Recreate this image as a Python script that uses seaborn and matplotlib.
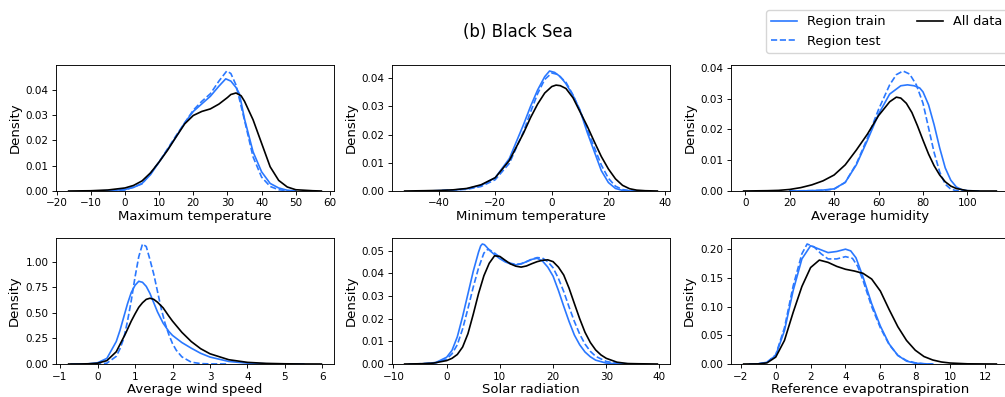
import matplotlib
matplotlib.use("Agg")
import matplotlib.pyplot as plt
from matplotlib.lines import Line2D
from matplotlib.ticker import MultipleLocator
import seaborn as sns

REGION_COLOR = "#2a78ff"
ALL_COLOR = "black"

# ---- Maximum temperature ----
tmax_train_x = [-12, -5, 0, 2.5, 5, 7.5, 10, 12.5, 15, 17.5, 20, 22.5, 25, 27.5, 29.5, 31, 32.5, 33.5,
                35, 37.5, 40, 42.5, 45, 47.5, 50]
tmax_train = [0, 0.0001, 0.0006, 0.0014, 0.003, 0.0065, 0.0115, 0.0165, 0.0215, 0.027, 0.0315, 0.0345,
              0.0375, 0.0415, 0.0444, 0.0435, 0.041, 0.0385, 0.0285, 0.0155, 0.0076, 0.003, 0.0012, 0.0003, 0]
tmax_test_x = [-12, -5, 0, 5, 10, 15, 20, 22.5, 25, 27.5, 29.8, 31, 32.5, 35, 37.5, 40, 42.5, 45, 47.5, 50]
tmax_test = [0, 0.0001, 0.0004, 0.0028, 0.0115, 0.022, 0.032, 0.0355, 0.0385, 0.0435, 0.0475, 0.0465,
             0.042, 0.028, 0.0135, 0.0055, 0.0018, 0.0005, 0.0001, 0]
tmax_all_x = [-16.5, -10, -5, 0, 2.5, 5, 7.5, 10, 12.5, 15, 17.5, 20, 22.5, 25, 27.5, 30, 31, 32.5, 34,
              35, 37.5, 40, 42.5, 45, 47.5, 50, 55, 57.5]
tmax_all = [0, 0.0001, 0.0004, 0.0012, 0.0022, 0.004, 0.0072, 0.0115, 0.0162, 0.0215, 0.0266, 0.0299,
            0.0315, 0.0325, 0.0344, 0.037, 0.0382, 0.0388, 0.0377, 0.0355, 0.0282, 0.0189, 0.0096, 0.0042,
            0.0016, 0.0005, 0.0001, 0]

# ---- Minimum temperature ----
tmin_train_x = [-45, -40, -35, -30, -25, -20, -15, -10, -7.5, -5, -2.5, -0.8, 1, 3, 5, 7.5, 10, 12.5,
                15, 17.5, 20, 22.5, 25, 28]
tmin_train = [0, 0.0001, 0.0003, 0.0008, 0.002, 0.0047, 0.0115, 0.0235, 0.030, 0.0358, 0.0405, 0.0425,
              0.042, 0.0405, 0.038, 0.0338, 0.0285, 0.0208, 0.014, 0.0072, 0.003, 0.0009, 0.0002, 0]
tmin_test_x = [-45, -40, -30, -25, -20, -15, -10, -7.5, -5, -2.5, 0, 2, 5, 7.5, 10, 12.5, 15, 17.5, 20,
               22.5, 25, 28, 31]
tmin_test = [0, 0.0001, 0.0006, 0.0016, 0.004, 0.0098, 0.021, 0.028, 0.0345, 0.0395, 0.0418, 0.0413,
             0.0385, 0.034, 0.0285, 0.0218, 0.0155, 0.0092, 0.0045, 0.0017, 0.0005, 0.0001, 0]
tmin_all_x = [-52, -45, -40, -35, -30, -25, -20, -15, -10, -7.5, -5, -2.5, 0, 1.5, 3, 5, 7.5, 10, 12.5,
              15, 17.5, 20, 22.5, 25, 27.5, 30, 33, 37.3]
tmin_all = [0, 0.0001, 0.0002, 0.0004, 0.0009, 0.0022, 0.0047, 0.0108, 0.0205, 0.026, 0.0308, 0.0347,
            0.037, 0.0375, 0.0373, 0.0363, 0.033, 0.028, 0.023, 0.0175, 0.0122, 0.0078, 0.0043, 0.002,
            0.0008, 0.0003, 0.0001, 0]

# ---- Average humidity ----
hum_train_x = [20, 30, 35, 40, 45, 50, 55, 60, 65, 70, 73, 76, 78.5, 80, 82.5, 85, 87.5, 90, 92.5, 95,
               97.5, 100, 105]
hum_train = [0, 0.0001, 0.0003, 0.0007, 0.0028, 0.0085, 0.0165, 0.025, 0.0315, 0.0342, 0.0345, 0.0342,
             0.0335, 0.0322, 0.028, 0.0215, 0.014, 0.0075, 0.0035, 0.0013, 0.0004, 0.0001, 0]
hum_test_x = [20, 35, 40, 45, 50, 55, 60, 65, 68, 71, 74, 77, 80, 82.5, 85, 87.5, 90, 92.5, 95, 100]
hum_test = [0, 0.0002, 0.0006, 0.0028, 0.0088, 0.0172, 0.0265, 0.0345, 0.0378, 0.039, 0.038, 0.0345,
            0.0285, 0.0205, 0.0125, 0.0062, 0.0022, 0.0006, 0.0001, 0]
hum_all_x = [-0.7, 10, 15, 20, 25, 30, 35, 40, 45, 50, 55, 60, 65, 68, 70, 72.5, 75, 77.5, 80, 82.5, 85,
             87.5, 90, 92.5, 95, 100, 105, 113]
hum_all = [0, 0.0001, 0.0002, 0.0005, 0.0011, 0.002, 0.0033, 0.0052, 0.0085, 0.0133, 0.0185, 0.0245,
           0.029, 0.0305, 0.0302, 0.0285, 0.0255, 0.0212, 0.0165, 0.012, 0.0082, 0.0052, 0.003, 0.0016,
           0.0008, 0.0001, 0, 0]

# ---- Average wind speed ----
wind_train_x = [-0.7, -0.25, 0, 0.25, 0.5, 0.6, 0.7, 0.8, 0.9, 1.0, 1.1, 1.2, 1.3, 1.4, 1.5, 1.6, 1.75,
                1.9, 2.0, 2.25, 2.5, 2.75, 3.0, 3.5, 4.0, 4.5, 5.0, 5.5]
wind_train = [0, 0.002, 0.012, 0.055, 0.22, 0.33, 0.46, 0.59, 0.70, 0.77, 0.81, 0.80, 0.76, 0.69, 0.60,
              0.51, 0.40, 0.32, 0.28, 0.21, 0.155, 0.105, 0.068, 0.025, 0.008, 0.002, 0.0005, 0]
wind_test_x = [-0.3, 0, 0.25, 0.5, 0.6, 0.7, 0.8, 0.9, 1.0, 1.1, 1.2, 1.3, 1.4, 1.5, 1.6, 1.7, 1.8, 1.9,
               2.0, 2.1, 2.25, 2.5, 2.75, 3.0, 3.5]
wind_test = [0, 0.001, 0.008, 0.075, 0.15, 0.25, 0.42, 0.62, 0.85, 1.05, 1.175, 1.15, 1.02, 0.88, 0.71,
             0.54, 0.40, 0.29, 0.20, 0.135, 0.07, 0.018, 0.004, 0.001, 0]
wind_all_x = [-0.77, -0.5, -0.25, 0, 0.25, 0.5, 0.75, 0.9, 1.0, 1.1, 1.2, 1.3, 1.4, 1.5, 1.6, 1.75, 1.9,
              2.0, 2.25, 2.5, 2.75, 3.0, 3.5, 4.0, 4.5, 5.0, 5.5, 5.97]
wind_all = [0, 0.0003, 0.002, 0.008, 0.033, 0.12, 0.30, 0.42, 0.49, 0.555, 0.60, 0.633, 0.644, 0.633,
            0.605, 0.55, 0.47, 0.42, 0.31, 0.22, 0.15, 0.10, 0.042, 0.016, 0.006, 0.002, 0.0005, 0]

# ---- Solar radiation ----
sol_train_x = [-7, -4, -2, 0, 1, 2, 3, 4, 5, 6, 6.4, 6.7, 7.1, 7.5, 8, 9, 10, 11, 12, 13, 14, 15, 16, 17,
               18, 19, 20, 21, 22, 23, 24, 25, 26, 27, 28, 30, 32, 34]
sol_train = [0, 0.0001, 0.0007, 0.003, 0.006, 0.012, 0.021, 0.031, 0.041, 0.0495, 0.0522, 0.053, 0.0527,
             0.0517, 0.0503, 0.0483, 0.0465, 0.0451, 0.0442, 0.0438, 0.0442, 0.0452, 0.0462, 0.0467,
             0.0455, 0.0428, 0.0388, 0.0325, 0.0255, 0.0188, 0.0128, 0.0085, 0.0053, 0.0032, 0.0017,
             0.0004, 0.0001, 0]
sol_test_x = [-6, -2, 0, 1, 2, 3, 4, 5, 6, 7, 7.8, 9, 10, 11, 12, 13, 14, 15, 16, 17, 18, 19, 20, 21, 22,
              23, 24, 25, 26, 27, 28, 30, 32, 34, 36]
sol_test = [0, 0.0005, 0.0022, 0.0045, 0.0085, 0.0155, 0.0245, 0.034, 0.0425, 0.049, 0.0508, 0.049,
            0.0472, 0.0455, 0.0445, 0.044, 0.0443, 0.0452, 0.0463, 0.047, 0.0468, 0.0452, 0.0425, 0.0378,
            0.032, 0.0252, 0.0188, 0.0132, 0.0088, 0.0056, 0.0034, 0.0011, 0.0003, 0.0001, 0]
sol_all_x = [-7.9, -5, -2.5, 0, 1, 2, 3, 4, 5, 6, 7, 8, 9, 10, 11, 12, 13, 14, 15, 16, 17, 18, 19, 20, 21,
             22, 23, 24, 25, 26, 27, 28, 29, 30, 32, 34, 36, 39.6]
sol_all = [0, 0.0001, 0.0004, 0.0015, 0.0025, 0.0042, 0.0075, 0.0134, 0.022, 0.0312, 0.039, 0.0445,
           0.0478, 0.0475, 0.0458, 0.0442, 0.0432, 0.0428, 0.0433, 0.0443, 0.0452, 0.0458, 0.046, 0.0452,
           0.0428, 0.0393, 0.0335, 0.0267, 0.020, 0.014, 0.0095, 0.0062, 0.004, 0.0025, 0.0008, 0.0002,
           0.0001, 0]

# ---- Reference evapotranspiration ----
et0_train_x = [-1.5, -1, -0.5, 0, 0.5, 1, 1.5, 2, 2.5, 3, 3.5, 4, 4.3, 4.6, 5, 5.5, 6, 6.5, 7, 7.5, 8,
               8.5, 9]
et0_train = [0, 0.0003, 0.003, 0.015, 0.058, 0.128, 0.183, 0.206, 0.200, 0.194, 0.196, 0.200, 0.197,
             0.185, 0.152, 0.105, 0.066, 0.035, 0.015, 0.005, 0.0015, 0.0003, 0]
et0_test_x = [-1.5, -1, -0.5, 0, 0.5, 1, 1.5, 1.8, 2.2, 2.6, 3, 3.5, 4, 4.4, 4.7, 5, 5.5, 6, 6.5, 7, 7.5,
              8, 8.5, 9]
et0_test = [0, 0.0003, 0.003, 0.016, 0.063, 0.136, 0.192, 0.209, 0.204, 0.192, 0.183, 0.183, 0.187,
            0.184, 0.17, 0.146, 0.10, 0.063, 0.034, 0.015, 0.006, 0.002, 0.0005, 0]
et0_all_x = [-1.84, -1, -0.5, 0, 0.5, 1, 1.5, 2, 2.5, 3, 3.5, 4, 4.5, 5, 5.5, 6, 6.5, 7, 7.5, 8, 8.5, 9,
             9.5, 10, 11, 12, 12.65]
et0_all = [0, 0.0002, 0.002, 0.012, 0.041, 0.09, 0.135, 0.168, 0.181, 0.177, 0.17, 0.165, 0.162, 0.158,
           0.148, 0.127, 0.095, 0.065, 0.041, 0.024, 0.013, 0.007, 0.0035, 0.0017, 0.0003, 0.0001, 0]

panels = [
    ("Maximum temperature", (tmax_train_x, tmax_train), (tmax_test_x, tmax_test), (tmax_all_x, tmax_all), 10),
    ("Minimum temperature", (tmin_train_x, tmin_train), (tmin_test_x, tmin_test), (tmin_all_x, tmin_all), 20),
    ("Average humidity", (hum_train_x, hum_train), (hum_test_x, hum_test), (hum_all_x, hum_all), 20),
    ("Average wind speed", (wind_train_x, wind_train), (wind_test_x, wind_test), (wind_all_x, wind_all), 1),
    ("Solar radiation", (sol_train_x, sol_train), (sol_test_x, sol_test), (sol_all_x, sol_all), 10),
    ("Reference evapotranspiration", (et0_train_x, et0_train), (et0_test_x, et0_test),
     (et0_all_x, et0_all), 2),
]

plt.rcParams.update({
    "font.family": ["DejaVu Sans"],
    "axes.linewidth": 0.65,
    "xtick.major.size": 2.8,
    "ytick.major.size": 2.8,
    "xtick.major.width": 0.65,
    "ytick.major.width": 0.65,
    "xtick.major.pad": 2.6,
    "ytick.major.pad": 2.6,
    "xtick.labelsize": 7.5,
    "ytick.labelsize": 7.5,
    "axes.labelsize": 9.5,
    "axes.labelpad": 1.0,
})

W, H = 1005, 397
fig = plt.figure(figsize=(W / 100, H / 100), dpi=100)

lefts = [56, 392, 731]
tops = [65, 238]
ax_w, ax_h = 278, 126

for i, (label, train, test, alldata, xstep) in enumerate(panels):
    r, c = divmod(i, 3)
    rect = [lefts[c] / W, (H - tops[r] - ax_h) / H, ax_w / W, ax_h / H]
    ax = fig.add_axes(rect)
    sns.lineplot(x=train[0], y=train[1], ax=ax, color=REGION_COLOR, lw=1.2, linestyle="-")
    sns.lineplot(x=test[0], y=test[1], ax=ax, color=REGION_COLOR, lw=1.2, linestyle="--")
    sns.lineplot(x=alldata[0], y=alldata[1], ax=ax, color=ALL_COLOR, lw=1.2, linestyle="-")
    ax.set_ylim(bottom=0)
    ax.xaxis.set_major_locator(MultipleLocator(xstep))
    ax.set_xlabel(label)
    ax.set_ylabel("Density", labelpad=3.0)

fig.text(518 / W, 1 - 32 / H, "(b) Black Sea", ha="center", va="center", fontsize=12)

handles = [
    Line2D([], [], color=REGION_COLOR, lw=1.2, linestyle="-"),
    Line2D([], [], color=REGION_COLOR, lw=1.2, linestyle="--"),
    Line2D([], [], color=ALL_COLOR, lw=1.2, linestyle="-"),
]
fig.legend(handles, ["Region train", "Region test", "All data"], ncol=2,
           loc="upper left", bbox_to_anchor=(766 / W, 1 - 10 / H), fontsize=9.3,
           borderaxespad=0.0, columnspacing=2.4)

fig.savefig("out.png", dpi=100)
